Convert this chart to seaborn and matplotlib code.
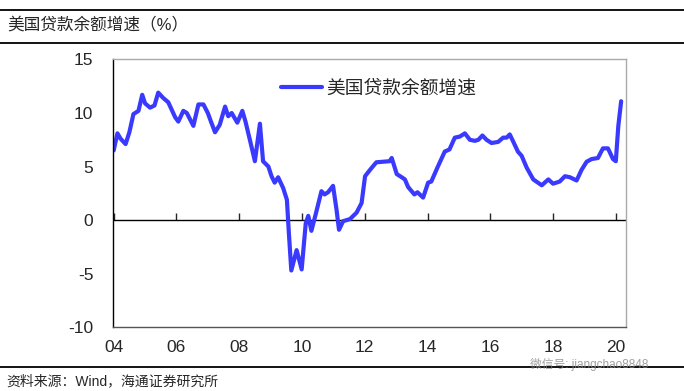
import numpy as np
import pandas as pd
import matplotlib
matplotlib.use("Agg")
import matplotlib.pyplot as plt
import seaborn as sns

# decimal year / loan balance growth (%)
years = [2004.00, 2004.12, 2004.22, 2004.38, 2004.50, 2004.63, 2004.79, 2004.91,
         2005.00, 2005.16, 2005.30, 2005.42, 2005.58, 2005.74, 2005.96, 2006.06,
         2006.22, 2006.33, 2006.54, 2006.70, 2006.86, 2007.00, 2007.10, 2007.23,
         2007.38, 2007.55, 2007.65, 2007.76, 2007.94, 2008.10, 2008.20, 2008.34,
         2008.50, 2008.66, 2008.76, 2008.93, 2009.03, 2009.13, 2009.24, 2009.40,
         2009.52, 2009.58, 2009.66, 2009.83, 2009.99, 2010.12, 2010.20, 2010.30,
         2010.45, 2010.62, 2010.72, 2010.83, 2010.99, 2011.10, 2011.18, 2011.31,
         2011.53, 2011.74, 2011.90, 2012.01, 2012.17, 2012.37, 2012.58, 2012.79,
         2012.86, 2013.02, 2013.18, 2013.28, 2013.38, 2013.58, 2013.68, 2013.86,
         2014.02, 2014.12, 2014.33, 2014.55, 2014.70, 2014.87, 2015.03, 2015.19,
         2015.35, 2015.51, 2015.62, 2015.75, 2015.88, 2016.04, 2016.25, 2016.41,
         2016.52, 2016.62, 2016.72, 2016.88, 2017.00, 2017.16, 2017.37, 2017.64,
         2017.85, 2018.00, 2018.21, 2018.38, 2018.54, 2018.75, 2018.91, 2019.07,
         2019.23, 2019.43, 2019.59, 2019.75, 2019.91, 2020.00, 2020.08, 2020.17]
growth = [6.5, 8.1, 7.6, 7.1, 8.2, 9.9, 10.2, 11.7,
          10.9, 10.5, 10.7, 11.9, 11.4, 11.0, 9.6, 9.2,
          10.2, 10.0, 8.8, 10.8, 10.8, 10.0, 9.2, 8.2,
          8.9, 10.6, 9.7, 10.0, 9.1, 10.2, 9.2, 7.5,
          5.5, 9.0, 5.5, 5.0, 4.1, 3.5, 4.0, 3.0,
          1.9, -1.1, -4.7, -2.8, -4.6, -0.3, 0.4, -1.0,
          0.7, 2.7, 2.4, 2.6, 3.2, 1.0, -0.9, -0.1,
          0.1, 0.7, 1.6, 4.1, 4.7, 5.4, 5.45, 5.5,
          5.8, 4.3, 4.0, 3.8, 3.1, 2.4, 2.6, 2.1,
          3.5, 3.6, 5.0, 6.4, 6.6, 7.7, 7.8, 8.1,
          7.5, 7.4, 7.5, 7.9, 7.5, 7.2, 7.3, 7.7,
          7.7, 8.0, 7.4, 6.4, 6.0, 4.9, 3.8, 3.25,
          3.8, 3.4, 3.6, 4.1, 4.0, 3.7, 4.7, 5.45,
          5.7, 5.8, 6.7, 6.7, 5.7, 5.5, 8.8, 11.1]

xticks = list(range(2004, 2021, 2))
xlabels = ["04", "06", "08", "10", "12", "14", "16", "18", "20"]
yticks = [-10, -5, 0, 5, 10, 15]
series_name = "美国贷款余额增速"

df = pd.DataFrame({"year": years, "value": growth, "series": series_name})

sns.set_style("white")
plt.rcParams["font.family"] = ["Liberation Sans", "Noto Sans CJK SC", "DejaVu Sans"]

fig = plt.figure(figsize=(6.84, 3.91), dpi=100)
ax = fig.add_axes([0.1648, 0.163, 0.7502, 0.685])

sns.lineplot(data=df, x="year", y="value", hue="series", palette=["#3a3aff"],
             linewidth=3.0, ax=ax)

ax.set_xlim(2003.97, 2020.32)
ax.set_ylim(-10, 15)
ax.axhline(0, color="black", linewidth=1.0, zorder=1)

ax.set_xticks(xticks)
ax.set_xticklabels(xlabels, fontsize=12.5)
ax.set_yticks(yticks)
ax.set_yticklabels([str(v) for v in yticks], fontsize=12.5)
ax.tick_params(axis="x", length=0, pad=9)
ax.tick_params(axis="y", direction="in", length=5, width=1, color="black", pad=14)
ax.set_xlabel("")
ax.set_ylabel("")

# tick marks sitting on the zero line
sec = ax.secondary_xaxis(0.4)
sec.set_xticks(xticks)
sec.tick_params(direction="in", length=5, width=1, labelbottom=False)
sec.spines["bottom"].set_visible(False)

ax.spines["left"].set_color("black")
ax.spines["bottom"].set_color("#555555")
ax.spines["top"].set_color("#aaaaaa")
ax.spines["right"].set_color("#aaaaaa")
for s in ax.spines.values():
    s.set_linewidth(1.0)

leg = ax.legend(loc="upper left", bbox_to_anchor=(0.295, 0.985), frameon=False,
                fontsize=13.5, handlelength=2.2, handletextpad=0.2)
for h in leg.get_lines():
    h.set_linewidth(3.0)

# header / footer
fig.text(0.010, 0.934, "美国贷款余额增速（%）", fontsize=12, va="center", ha="left")
fig.add_artist(plt.Line2D([0, 1], [0.974, 0.974], color="black", linewidth=1.3))
fig.add_artist(plt.Line2D([0, 1], [0.891, 0.891], color="black", linewidth=1.3))
fig.add_artist(plt.Line2D([0, 1], [0.061, 0.061], color="black", linewidth=1.3))
fig.text(0.010, 0.025, "资料来源：Wind，海通证券研究所", fontsize=10, va="center", ha="left")
fig.text(0.775, 0.069, "微信号: jiangchao8848", fontsize=8.5, color="#888888",
         alpha=0.8, va="center", ha="left")

fig.savefig("out.png", dpi=100)
